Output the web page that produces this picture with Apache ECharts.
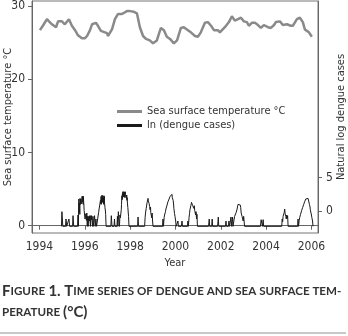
<!DOCTYPE html>
<html>
<head>
<meta charset="utf-8">
<script src="https://cdn.jsdelivr.net/npm/echarts@6/dist/echarts.min.js"></script>
<style>
  html, body { margin: 0; padding: 0; background: #fff; }
  #chart { width: 348px; height: 336px; }
</style>
</head>
<body>
<div id="chart"></div>
<script>
const FONT = "'Liberation Sans Narrow', 'DejaVu Sans Condensed', sans-serif";

const yearTicks = [1994, 1996, 1998, 2000, 2002, 2004, 2006];
const tempTicks = [0, 10, 20, 30];
const logTicks = [0, 5];

// sea surface temperature, [year, °C]
const sst = [
  [1994.02, 26.7], [1994.15, 27.3], [1994.33, 28.2], [1994.42, 27.9], [1994.55, 27.5],
  [1994.73, 27.1], [1994.82, 27.9], [1994.99, 27.9], [1995.12, 27.5], [1995.3, 28.2],
  [1995.43, 27.3], [1995.57, 26.7], [1995.7, 26.0], [1995.87, 25.6], [1996.01, 25.6],
  [1996.1, 25.9], [1996.23, 26.7], [1996.32, 27.5], [1996.49, 27.7], [1996.58, 27.3],
  [1996.71, 26.6], [1996.89, 26.4], [1996.98, 26.3], [1997.02, 25.9], [1997.2, 26.8],
  [1997.33, 28.2], [1997.46, 28.9], [1997.64, 28.9], [1997.86, 29.3], [1997.99, 29.3],
  [1998.17, 29.2], [1998.3, 29.0], [1998.35, 29.1], [1998.43, 27.1], [1998.57, 25.9],
  [1998.7, 25.5], [1998.87, 25.3], [1999.01, 24.9], [1999.18, 25.3], [1999.27, 26.2],
  [1999.36, 27.0], [1999.49, 26.7], [1999.62, 25.8], [1999.76, 25.5], [1999.93, 24.9],
  [2000.07, 25.3], [2000.24, 27.0], [2000.37, 27.1], [2000.55, 26.7], [2000.68, 26.4],
  [2000.86, 25.9], [2000.99, 25.8], [2001.12, 26.4], [2001.3, 27.7], [2001.43, 27.8],
  [2001.57, 27.3], [2001.7, 26.7], [2001.87, 26.7], [2001.96, 26.4], [2002.18, 27.1],
  [2002.36, 27.8], [2002.49, 28.6], [2002.62, 28.0], [2002.76, 28.2], [2002.89, 28.4],
  [2003.02, 27.9], [2003.15, 27.8], [2003.24, 27.3], [2003.37, 27.7], [2003.51, 27.7],
  [2003.64, 27.4], [2003.77, 27.0], [2003.9, 27.4], [2004.08, 27.1], [2004.21, 27.0],
  [2004.35, 27.4], [2004.43, 27.8], [2004.61, 27.9], [2004.74, 27.4], [2004.92, 27.5],
  [2005.09, 27.3], [2005.18, 27.3], [2005.36, 28.2], [2005.49, 28.4], [2005.62, 27.8],
  [2005.71, 26.8], [2005.8, 26.6], [2005.89, 26.4], [2006.02, 25.8]
];

// ln(dengue cases), [year, value]; -2.3 is the floor
const dengue = [
  [1994.97, -2.3], [1994.99, -0.1], [1995.03, -2.3], [1995.15, -2.3], [1995.17, -1.2], [1995.2, -2.3],
  [1995.28, -2.3], [1995.3, -1.2], [1995.33, -2.3], [1995.46, -2.3], [1995.48, -0.7], [1995.51, -2.3],
  [1995.68, -2.3], [1995.7, -0.6], [1995.72, -2.3], [1995.73, 1.4], [1995.74, 1.8], [1995.75, -0.2],
  [1995.76, 1.2], [1995.77, 0.4], [1995.78, -0.5], [1995.79, 1.9], [1995.8, 2.1], [1995.81, 1.0],
  [1995.82, 1.8], [1995.83, 1.5], [1995.84, 2.1], [1995.85, 2.0], [1995.86, 1.1], [1995.87, 1.2],
  [1995.88, 2.2], [1995.89, 1.4], [1995.9, 2.2], [1995.91, 1.6], [1995.92, 1.9], [1995.93, 1.0],
  [1995.94, 2.2], [1995.95, 1.3], [1995.96, 0.9], [1995.97, 0.1], [1995.98, 0.3], [1996.0, 0],
  [1996.01, -1.2], [1996.03, -1.0], [1996.05, -0.4], [1996.07, -1.4], [1996.09, -0.3], [1996.11, -2.3],
  [1996.12, -0.8], [1996.14, -0.7], [1996.15, -2.3], [1996.17, -0.8], [1996.18, -0.8], [1996.2, -1.5],
  [1996.21, -0.7], [1996.23, -0.7], [1996.25, -2.3], [1996.26, -0.7], [1996.27, -0.7], [1996.29, -1.3],
  [1996.3, -0.7], [1996.32, -0.7], [1996.34, -2.3], [1996.36, -0.8], [1996.38, -2.3], [1996.42, -2.3],
  [1996.43, -0.7], [1996.46, -2.3], [1996.48, -2.3], [1996.49, -1.2], [1996.52, -2.3], [1996.56, -2.3],
  [1996.58, -0.9], [1996.6, -0.6], [1996.61, -0.2], [1996.63, 0.3], [1996.64, 0.1], [1996.66, 0.9],
  [1996.67, 0.6], [1996.69, 1.6], [1996.7, 1.1], [1996.72, 2.2], [1996.73, 1.0], [1996.74, 1.9],
  [1996.75, 1.3], [1996.76, 2.4], [1996.77, 1.5], [1996.78, 2.2], [1996.79, 1.4], [1996.8, 2.0],
  [1996.81, 1.2], [1996.82, 1.9], [1996.83, 1.0], [1996.84, 2.3], [1996.85, 1.6], [1996.86, 2.2],
  [1996.87, 1.2], [1996.88, 1.4], [1996.89, 0.5], [1996.91, 0.0], [1996.92, -0.5], [1996.94, -2.3],
  [1997.15, -2.3], [1997.17, -0.7], [1997.2, -2.3], [1997.29, -2.3], [1997.31, -1.2], [1997.33, -2.3],
  [1997.42, -2.3], [1997.44, -0.8], [1997.46, -2.3], [1997.48, -0.1], [1997.5, -1.2], [1997.51, -1.2],
  [1997.53, -2.3], [1997.55, -0.6], [1997.57, -1.0], [1997.59, -0.8], [1997.61, 0.2], [1997.62, 1.0],
  [1997.63, 1.8], [1997.64, 2.3], [1997.65, 1.7], [1997.66, 2.6], [1997.67, 2.0], [1997.68, 2.9],
  [1997.69, 2.1], [1997.7, 2.8], [1997.71, 2.4], [1997.72, 2.9], [1997.73, 2.2], [1997.74, 2.8],
  [1997.75, 2.2], [1997.76, 2.8], [1997.77, 2.0], [1997.78, 2.9], [1997.79, 2.5], [1997.8, 2.2],
  [1997.81, 2.7], [1997.82, 2.3], [1997.83, 2.6], [1997.84, 1.9], [1997.85, 2.4], [1997.86, 1.6],
  [1997.87, 2.0], [1997.88, 1.2], [1997.89, 1.4], [1997.9, 0.5], [1997.92, 0.3], [1997.93, -0.8],
  [1997.95, -2.3],
  [1998.33, -2.3], [1998.35, -0.9], [1998.37, -2.3], [1998.64, -2.3], [1998.66, -1.0], [1998.68, -0.3],
  [1998.69, -0.6], [1998.71, 0.4], [1998.72, 0.1], [1998.73, 0.9], [1998.74, 0.6], [1998.75, 1.3],
  [1998.76, 1.0], [1998.77, 1.6], [1998.78, 1.3], [1998.79, 1.9], [1998.8, 1.5], [1998.81, 1.8],
  [1998.82, 1.3], [1998.83, 1.6], [1998.84, 1.1], [1998.85, 1.4], [1998.86, 0.7], [1998.87, 1.0],
  [1998.88, 0.2], [1998.9, 0.6], [1998.91, -0.2], [1998.93, -0.4], [1998.95, -1.0], [1998.97, -0.3],
  [1998.99, -1.5], [1999.01, -2.3],
  [1999.43, -2.3], [1999.45, -1.2], [1999.47, -2.3], [1999.5, -1.0], [1999.52, -0.6], [1999.54, -0.3],
  [1999.56, -0.1], [1999.58, 0.3], [1999.6, 0.5], [1999.63, 0.9], [1999.65, 1.1], [1999.67, 1.4],
  [1999.69, 1.5], [1999.72, 1.8], [1999.74, 1.9], [1999.76, 2.2], [1999.78, 2.1], [1999.8, 2.4],
  [1999.81, 2.2], [1999.83, 2.5], [1999.84, 2.2], [1999.85, 2.5], [1999.86, 2.0], [1999.87, 2.3],
  [1999.88, 1.9], [1999.9, 1.6], [1999.91, 1.4], [1999.92, 0.9], [1999.93, 0.4], [1999.94, 0.2],
  [1999.96, -0.4], [1999.98, -0.8], [2000.01, -1.5], [2000.03, -2.3], [2000.09, -2.3], [2000.11, -1.5],
  [2000.13, -2.3], [2000.26, -2.3], [2000.29, -1.5], [2000.31, -2.3], [2000.53, -2.3], [2000.55, -1.5],
  [2000.57, -2.3], [2000.6, -1.0], [2000.62, -0.4], [2000.64, 0.2], [2000.66, 0.4], [2000.68, 0.8],
  [2000.69, 1.0], [2000.71, 1.3], [2000.72, 1.2], [2000.73, 1.5], [2000.74, 1.1], [2000.75, 1.2],
  [2000.76, 0.8], [2000.77, 0.6], [2000.78, 0.9], [2000.8, 0.9], [2000.81, 0.4], [2000.82, 0.3],
  [2000.83, 0.8], [2000.84, 0.7], [2000.85, 0.1], [2000.86, 0.2], [2000.88, -0.2], [2000.89, -0.6],
  [2000.91, -0.1], [2000.93, -1.2], [2000.95, -0.5], [2000.97, -2.3],
  [2001.46, -2.3], [2001.49, -1.2], [2001.51, -2.3], [2001.6, -2.3], [2001.62, -1.2], [2001.64, -2.3],
  [2001.86, -2.3], [2001.89, -0.9], [2001.91, -2.3],
  [2002.21, -2.3], [2002.23, -1.5], [2002.25, -2.3], [2002.34, -2.3], [2002.36, -1.5], [2002.39, -2.3],
  [2002.43, -2.3], [2002.45, -0.9], [2002.48, -2.3], [2002.52, -0.9], [2002.54, -2.3], [2002.59, -1.2],
  [2002.61, -0.8], [2002.63, -0.6], [2002.66, -0.5], [2002.68, -0.2], [2002.7, 0.0], [2002.72, 0.3],
  [2002.74, 0.6], [2002.76, 1.0], [2002.78, 0.9], [2002.8, 1.2], [2002.82, 1.0], [2002.84, 0.7],
  [2002.86, 0.9], [2002.88, 0.5], [2002.9, -0.3], [2002.92, -0.2], [2002.94, -0.8], [2002.97, -1.0],
  [2002.99, -1.5], [2003.01, -0.8], [2003.03, -0.6], [2003.05, -2.3],
  [2003.75, -2.3], [2003.78, -1.3], [2003.8, -1.6], [2003.82, -1.3], [2003.84, -2.3], [2003.87, -1.3],
  [2003.89, -2.3],
  [2004.69, -2.3], [2004.71, -1.2], [2004.73, -1.6], [2004.75, -0.8], [2004.78, -0.6], [2004.8, -0.2],
  [2004.82, 0.3], [2004.84, -0.4], [2004.87, -0.8], [2004.89, -1.2], [2004.91, -0.6], [2004.93, -1.1],
  [2004.95, -0.7], [2004.97, -2.3],
  [2005.39, -2.3], [2005.41, -1.2], [2005.43, -2.3], [2005.46, -1.4], [2005.48, -1.0], [2005.5, -0.8],
  [2005.52, -0.5], [2005.54, -0.3], [2005.57, 0.1], [2005.59, 0.4], [2005.61, 0.5], [2005.63, 0.7],
  [2005.66, 1.0], [2005.68, 1.2], [2005.7, 1.4], [2005.72, 1.6], [2005.75, 1.8], [2005.77, 1.9],
  [2005.79, 1.9], [2005.81, 2.05], [2005.82, 1.7], [2005.83, 1.8], [2005.85, 1.9], [2005.86, 1.9],
  [2005.88, 1.5], [2005.9, 1.6], [2005.91, 1.0], [2005.92, 1.2], [2005.94, 0.6], [2005.95, 0.2],
  [2005.97, 0], [2005.99, 0.5], [2006.0, -0.6], [2006.02, -1.0], [2006.05, -1.5], [2006.07, -2.3]
];

const TXT = "#333";
const AXIS = "#666";
const yearFmt = (v) => String(v);

const chart = echarts.init(document.getElementById("chart"), null, { renderer: "canvas" });

chart.setOption({
  animation: false,
  backgroundColor: "#fff",
  grid: {
    left: 32, top: 1, width: 286, height: 232, outerBoundsMode: "none",
    show: true, borderColor: "#777", borderWidth: 1
  },
  legend: {
    left: 117, top: 106, orient: "vertical", padding: 0,
    itemWidth: 25, itemHeight: 3, itemGap: 3,
    textStyle: { color: TXT, fontSize: 11, fontFamily: FONT },
    data: [
      { name: "Sea surface temperature °C", icon: "rect", itemStyle: { color: "#8a8a8a" } },
      { name: "ln (dengue cases)", icon: "rect", itemStyle: { color: "#1a1a1a" } }
    ]
  },
  xAxis: {
    type: "value", min: 1993.67, max: 2006.29,
    name: "Year", nameLocation: "middle", nameGap: 23,
    nameTextStyle: { color: TXT, fontSize: 11, fontFamily: FONT },
    axisLine: { show: true, lineStyle: { color: AXIS } },
    axisTick: { show: true, length: 4, customValues: yearTicks, lineStyle: { color: AXIS } },
    axisLabel: { customValues: yearTicks, formatter: yearFmt, color: TXT, fontSize: 12, fontFamily: FONT, margin: 8 },
    splitLine: { show: false }
  },
  yAxis: [
    {
      type: "value", min: -1.0, max: 30.68, position: "left",
      name: "Sea surface temperature °C", nameLocation: "middle", nameGap: 18, nameRotate: 90,
      nameMoveOverlap: false,
      nameTextStyle: { color: TXT, fontSize: 11, fontFamily: FONT },
      axisLine: { show: true, lineStyle: { color: AXIS } },
      axisTick: { show: true, length: 4, customValues: tempTicks, lineStyle: { color: AXIS } },
      axisLabel: { customValues: tempTicks, color: TXT, fontSize: 12, fontFamily: FONT, margin: 7 },
      splitLine: { show: false }
    },
    {
      type: "value", min: -3.3, max: 31.53, position: "right",
      name: "Natural log dengue cases", nameLocation: "middle", nameGap: 18, nameRotate: 90,
      nameMoveOverlap: false,
      nameTextStyle: { color: TXT, fontSize: 11, fontFamily: FONT },
      axisLine: { show: true, lineStyle: { color: AXIS } },
      axisTick: { show: true, length: 4, customValues: logTicks, lineStyle: { color: AXIS } },
      axisLabel: { customValues: logTicks, color: TXT, fontSize: 12, fontFamily: FONT, margin: 8 },
      splitLine: { show: false }
    }
  ],
  series: [
    {
      name: "Sea surface temperature °C", type: "line", yAxisIndex: 0,
      data: sst, symbol: "none", lineStyle: { color: "#8a8a8a", width: 2.5 }, itemStyle: { color: "#8a8a8a" }
    },
    {
      name: "ln (dengue cases)", type: "line", yAxisIndex: 1,
      data: dengue, symbol: "none", lineStyle: { color: "#1a1a1a", width: 1 }, itemStyle: { color: "#1a1a1a" }
    }
  ],
  graphic: [
    {
      type: "text", left: 2, top: 284,
      style: {
        text: "{a|F}{b|IGURE} {a|1. T}{b|IME SERIES OF DENGUE AND SEA SURFACE TEM-}",
        rich: {
          a: { fontSize: 15, fontWeight: "bold", fontFamily: "Lato", fill: "#333" },
          b: { fontSize: 11.6, fontWeight: "bold", fontFamily: "Lato", fill: "#333" }
        }
      }
    },
    {
      type: "text", left: 2, top: 305,
      style: {
        text: "{b|PERATURE }{a|(°C)}",
        rich: {
          a: { fontSize: 15, fontWeight: "bold", fontFamily: "Lato", fill: "#333" },
          b: { fontSize: 11.6, fontWeight: "bold", fontFamily: "Lato", fill: "#333" }
        }
      }
    },
    {
      type: "rect", left: 0, top: 332,
      shape: { width: 346, height: 2 },
      style: { fill: "#c8c8c8" }
    }
  ]
});
</script>
</body>
</html>
